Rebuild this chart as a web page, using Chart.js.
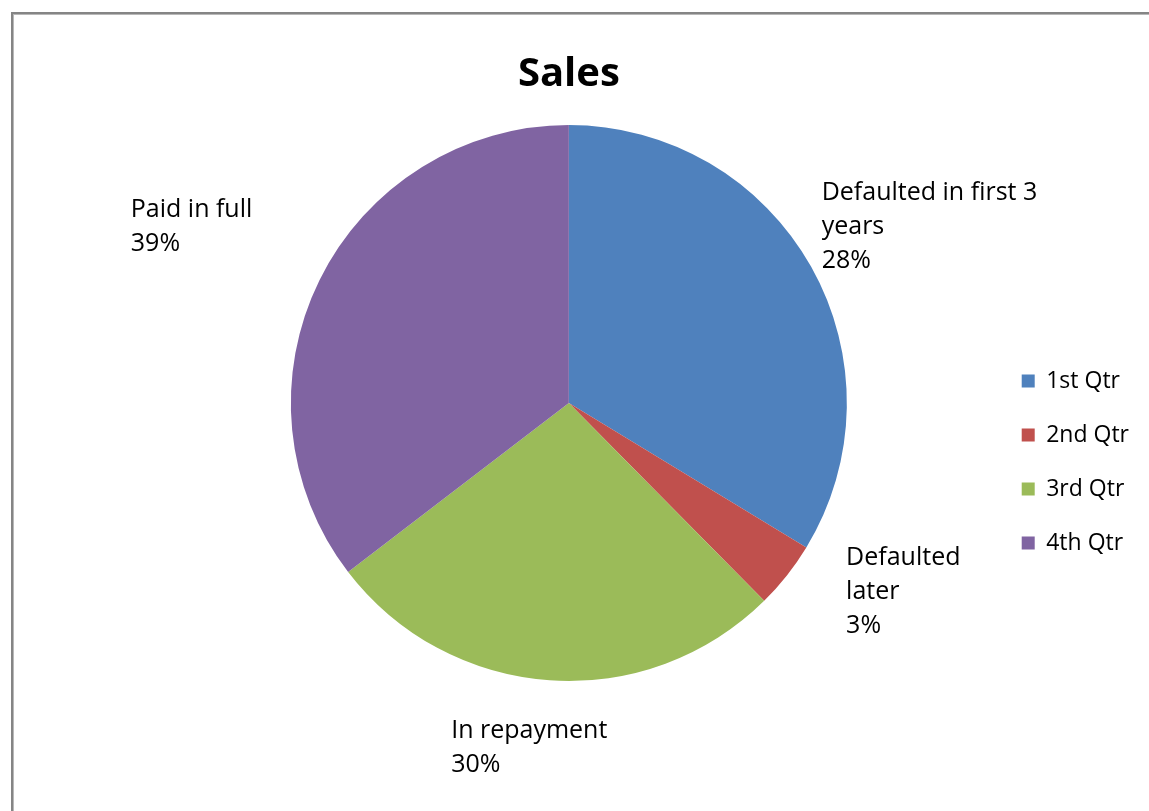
<!DOCTYPE html>
<html>
<head>
<meta charset="utf-8">
<title>Sales</title>
<script src="https://cdn.jsdelivr.net/npm/chart.js@4.4.1/dist/chart.umd.min.js"></script>
<style>
  html, body { margin: 0; padding: 0; background: #fff; overflow: hidden; }
  #frame {
    position: absolute; left: 11px; top: 12px; width: 1300px; height: 1000px;
    border-top: 2px solid #858585; border-left: 2px solid #858585;
    box-shadow: inset 1px 1px 0 #b8b8b8;
  }
  #chartBox { position: absolute; left: 0; top: 0; width: 1149px; height: 811px; }
</style>
</head>
<body>
<div id="frame"></div>
<div id="chartBox"><canvas id="salesChart" width="1149" height="811"></canvas></div>
<script>
document.addEventListener('DOMContentLoaded', function () {

// legend categories
const quarters = ['1st Qtr', '2nd Qtr', '3rd Qtr', '4th Qtr'];
// slice sizes (angles), in percent
const sales = [33.7, 3.9, 27.0, 35.4];
// data label text shown next to each slice
const sliceLabels = [['Defaulted in first 3', 'years'], ['Defaulted', 'later'], ['In repayment'], ['Paid in full']];
const labelPercents = ['28%', '3%', '30%', '39%'];
const sliceColors = ['#4F81BD', '#C0504D', '#9BBB59', '#8064A2'];

// draws the text labels outside each slice, starting from the slice's outer mid point
const sliceLabelPlugin = {
    id: 'sliceLabels',
    afterDatasetsDraw(chart, args, opts) {
        const ctx = chart.ctx;
        const arcs = chart.getDatasetMeta(0).data;
        ctx.save();
        ctx.font = opts.font;
        ctx.fillStyle = opts.color;
        ctx.textAlign = 'left';
        ctx.textBaseline = 'alphabetic';
        arcs.forEach((arc, i) => {
            const p = arc.getProps(['x', 'y', 'startAngle', 'endAngle', 'outerRadius'], true);
            const mid = (p.startAngle + p.endAngle) / 2;
            const ax = p.x + Math.cos(mid) * p.outerRadius + opts.nudge[i][0];
            const ay = p.y + Math.sin(mid) * p.outerRadius + opts.nudge[i][1];
            const lines = sliceLabels[i].concat(labelPercents[i]);
            lines.forEach((line, j) => ctx.fillText(line, ax, ay + j * opts.lineHeight));
        });
        ctx.restore();
    }
};

Chart.defaults.font.family = '"Open Sans", "DejaVu Sans", sans-serif';
Chart.defaults.color = '#000';

const ctx = document.getElementById('salesChart').getContext('2d');
new Chart(ctx, {
    type: 'pie',
    data: {
        labels: quarters,
        datasets: [{
            data: sales,
            backgroundColor: sliceColors,
            borderColor: sliceColors,
            borderWidth: 0,
        }],
    },
    options: {
        responsive: false,
        animation: false,
        events: [],
        devicePixelRatio: 1,
        layout: {
            padding: { left: 147, right: 10, top: 0, bottom: 130 },
        },
        plugins: {
            title: {
                display: true,
                text: 'Sales',
                fullSize: false,
                font: { size: 40, weight: 'bold' },
                padding: { top: 51, bottom: 26 },
            },
            legend: {
                position: 'right',
                fullSize: false,
                // empty legend title only pushes the entries down
                title: { display: true, text: '', font: { size: 12 }, padding: { top: 0, bottom: 103.6 } },
                labels: {
                    boxWidth: 13,
                    boxHeight: 13,
                    padding: 31,
                    font: { size: 23 },
                },
            },
            tooltip: { enabled: false },
            sliceLabels: {
                font: '25px "Open Sans", sans-serif',
                color: '#000',
                lineHeight: 34,
                nudge: [[10.5, -67.1], [59.2, -10.8], [-98.5, 57.4], [-188.8, -63.1]],
            },
        },
    },
    plugins: [sliceLabelPlugin],
});

});
</script>
</body>
</html>
